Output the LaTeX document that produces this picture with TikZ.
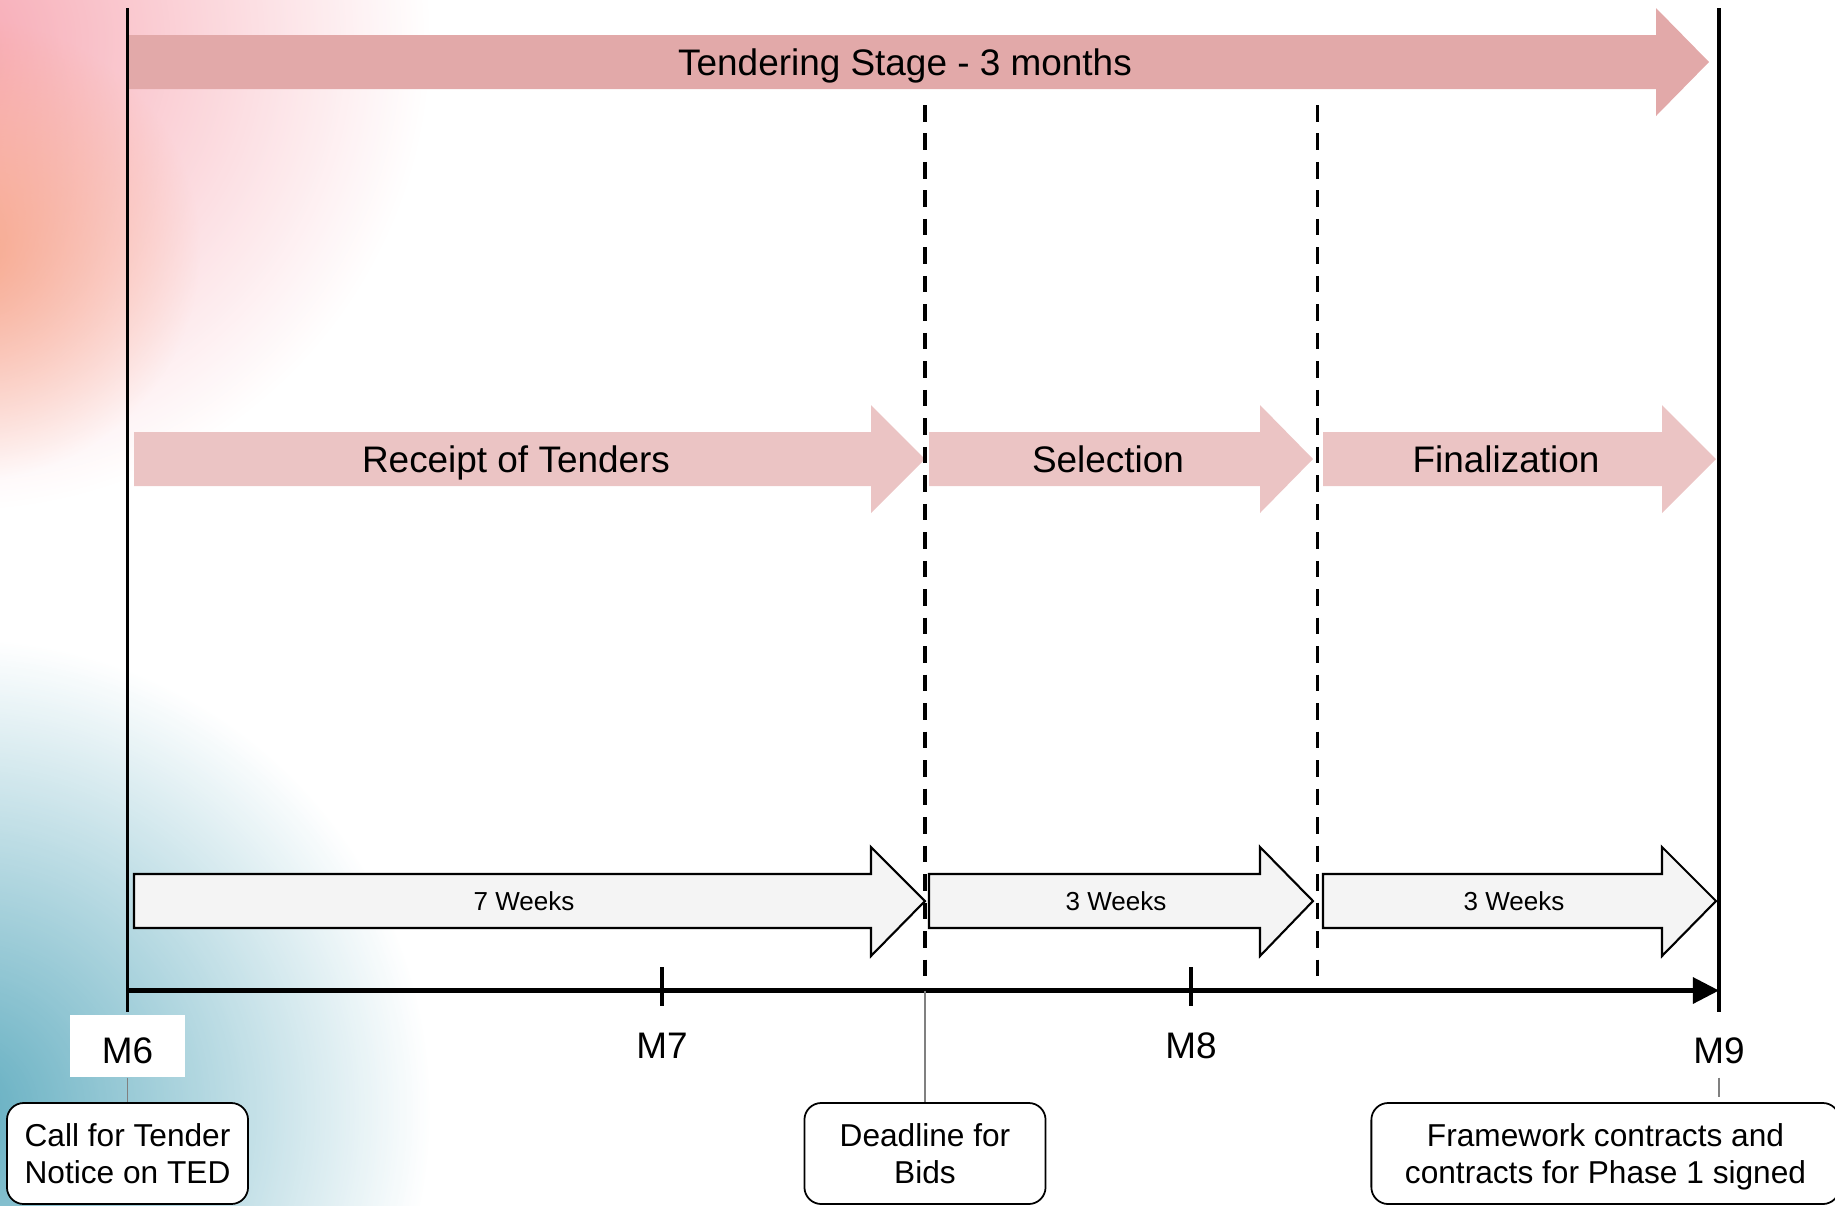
\documentclass[tikz,border=0pt]{standalone}
\usepackage{fontspec}
\setmainfont{Liberation Sans}
\usepackage{tikz}
\usetikzlibrary{arrows.meta,positioning,fadings}
\definecolor{stagepink}{RGB}{226,169,169}
\definecolor{phasepink}{RGB}{235,196,196}
\definecolor{weekgray}{RGB}{244,244,244}
\definecolor{bgpink}{RGB}{246,160,172}
\definecolor{bgorange}{RGB}{247,160,125}
\definecolor{bgteal}{RGB}{80,164,185}
\tikzfading[name=softspot, inner color=transparent!0, outer color=transparent!100]
\tikzset{
  stagelbl/.style={font=\fontsize{10.5}{12.6}\selectfont, inner sep=0pt, text height=7.5pt, text depth=0pt},
  weeklbl/.style={font=\fontsize{7.4}{9}\selectfont, inner sep=0pt, text height=5.3pt, text depth=0pt},
  monthlbl/.style={font=\fontsize{10.5}{12.6}\selectfont, fill=white, minimum width=1.157cm, minimum height=0.617cm, inner sep=0pt, text height=9.8pt, text depth=0pt},
  eventbox/.style={draw=black, line width=0.5pt, fill=white, rounded corners=4.8pt, align=center, minimum height=1.01cm, inner sep=0pt, text depth=0pt, font=\fontsize{9}{10.4}\selectfont},
  leader/.style={draw=gray, line width=0.3pt},
  milestone/.style={draw=black, line width=1.1pt},
  phaseline/.style={draw=black, line width=1.1pt, dash pattern=on 4.7pt off 3.4pt},
}
\begin{document}
\begin{tikzpicture}[x=0.01cm, y=-0.01cm]
\def\stagey {62}     % centre of the stage arrow
\def\phasey {459}    % centre of the phase arrows
\def\weeky {901}     % centre of the week arrows
\def\axisy {990.5}   % time axis
\def\xsix {127.5}    % M6
\def\xnine {1719}    % M9
\def\xdead {925}     % deadline for bids
\def\xsel {1317.5}   % end of selection
\useasboundingbox (0,0) rectangle (1835,1205);
% background:
\begin{scope}
 \clip (0,0) rectangle (1835,1205);
 \fill[bgpink, path fading=softspot, opacity=0.9] (-40,40) circle (470);
 \fill[bgorange, path fading=softspot, opacity=0.8] (-30,250) circle (230);
 \fill[bgteal, path fading=softspot, opacity=0.9] (-40,1110) circle (470);
\end{scope}
% stage arrow:
 \fill[stagepink] (128,35) -- (1656,35) -- (1656,8) -- (1709,\stagey) -- (1656,116) -- (1656,89) -- (128,89) -- cycle;
 \node[stagelbl] (stage) at (905,\stagey) {Tendering Stage - 3 months};
% phase arrows:
 \fill[phasepink] (134,432) -- (871,432) -- (871,405) -- (925,\phasey) -- (871,513) -- (871,486) -- (134,486) -- cycle;
 \fill[phasepink] (929,432) -- (1260,432) -- (1260,405) -- (1313,\phasey) -- (1260,513) -- (1260,486) -- (929,486) -- cycle;
 \fill[phasepink] (1323,432) -- (1662,432) -- (1662,405) -- (1716,\phasey) -- (1662,513) -- (1662,486) -- (1323,486) -- cycle;
 \node[stagelbl] (receipt) at (516,\phasey) {Receipt of Tenders};
 \node[stagelbl] (selection) at (1108,\phasey) {Selection};
 \node[stagelbl] (final) at (1506,\phasey) {Finalization};
% week arrows:
 \filldraw[fill=weekgray, draw=black, line width=0.6pt] (134,874) -- (871,874) -- (871,847) -- (925,\weeky) -- (871,956) -- (871,928) -- (134,928) -- cycle;
 \filldraw[fill=weekgray, draw=black, line width=0.6pt] (929,874) -- (1260,874) -- (1260,847) -- (1313,\weeky) -- (1260,956) -- (1260,928) -- (929,928) -- cycle;
 \filldraw[fill=weekgray, draw=black, line width=0.6pt] (1323,874) -- (1662,874) -- (1662,847) -- (1716,\weeky) -- (1662,956) -- (1662,928) -- (1323,928) -- cycle;
 \node[weeklbl] (wreceipt) at (524,\weeky) {7 Weeks};
 \node[weeklbl] (wselection) at (1116,\weeky) {3 Weeks};
 \node[weeklbl] (wfinal) at (1514,\weeky) {3 Weeks};
%% geometry:
 \draw[phaseline] (\xdead,105) -- (\xdead,\axisy);
 \draw[phaseline] (\xsel,105) -- (\xsel,\axisy);
 \draw[milestone] (\xsix,8) -- (\xsix,1012);
 \draw[milestone] (\xnine,8) -- (\xnine,1012);
 \draw[milestone] (662,967) -- (662,1006);
 \draw[milestone] (1191,967) -- (1191,1006);
 \draw[milestone, line width=1.2pt, -{Triangle[length=7.4pt, width=7.3pt]}] (\xsix,\axisy) -- (\xnine,\axisy);
%% months and events:
 \node[monthlbl] (m6) at (\xsix,1046) {M6};
 \node[monthlbl, fill=none] (m7) at (662,1041) {M7};
 \node[monthlbl, fill=none] (m8) at (1191,1041) {M8};
 \node[monthlbl, fill=none] (m9) at (\xnine,1046) {M9};
 \coordinate (dl) at (\xdead,\axisy);
 \node[eventbox, minimum width=2.41cm] (call) at (127.5,1153.5) {Call for Tender\\Notice on TED};
 \node[eventbox, minimum width=2.41cm] (deadline) at (\xdead,1153.5) {Deadline for\\Bids};
 \node[eventbox, minimum width=4.68cm] (signed) at (1605.5,1153.5) {Framework contracts and\\contracts for Phase 1 signed};
 \draw[leader] (m6.south) -- (call.north);
 \draw[leader] (dl) -- (deadline.north);
 \draw[leader] (m9.south) -- ([yshift=0.05cm]m9.south |- signed.north);
\end{tikzpicture}
\end{document}
